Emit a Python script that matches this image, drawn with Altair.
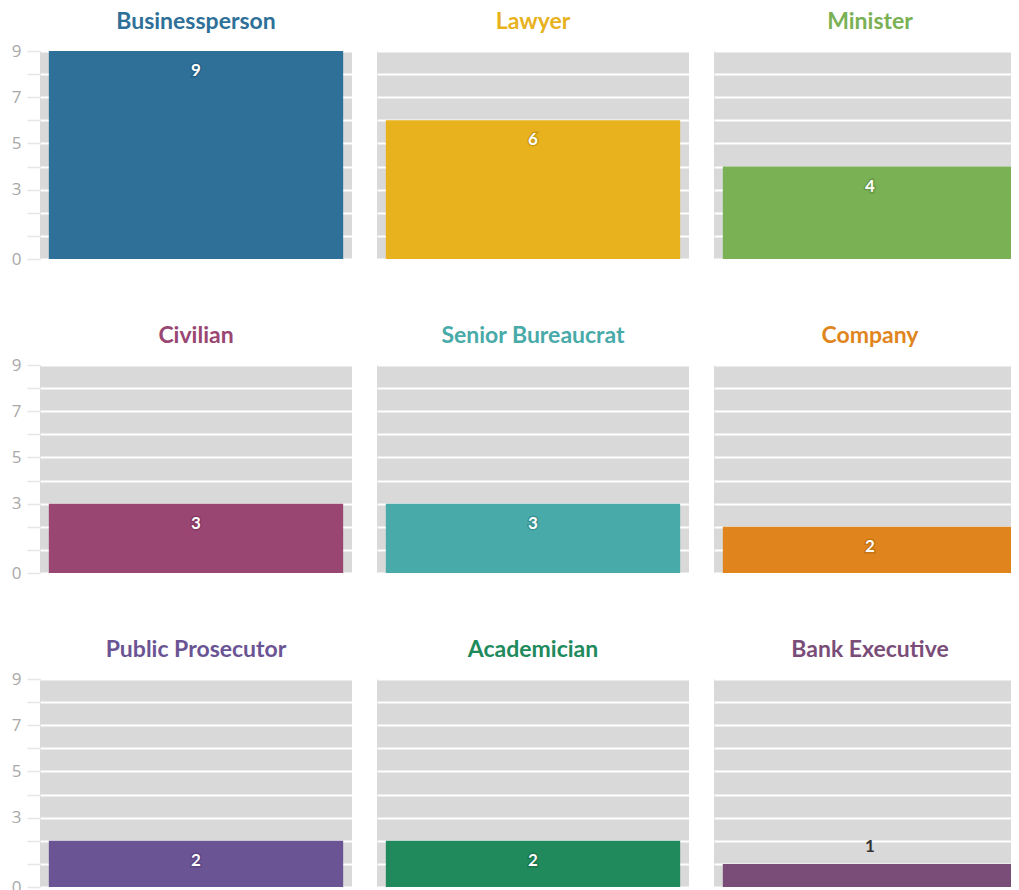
import altair as alt
import pandas as pd

roles = ["Businessperson", "Lawyer", "Minister", "Civilian", "Senior Bureaucrat",
         "Company", "Public Prosecutor", "Academician", "Bank Executive"]
counts = [9, 6, 4, 3, 3, 2, 2, 2, 1]
colors = ["#2e7098", "#e8b11e", "#7ab155", "#9a4672", "#48aaa9",
          "#e0851d", "#6b5494", "#218a5c", "#7a4d79"]
halos = ["#1d4e6e", "#b07f0a", "#4f7d33", "#6c2a4e", "#2a7877",
         "#a85c08", "#46346b", "#0f5c3a", "#4f2d50"]
y_ticks = [0, 1, 2, 3, 4, 5, 6, 7, 8, 9]
y_labels = [0, 3, 5, 7, 9]

df = pd.DataFrame({"role": roles, "count": counts})

W, H = 312, 208


def panel(i):
    d = df.iloc[[i]]
    first = i % 3 == 0
    if first:
        yaxis = alt.Axis(
            values=y_ticks,
            labelExpr="indexof(" + str(y_labels) + ", datum.value) >= 0 ? datum.label : ''",
            title=None, domain=False, tickSize=13, tickColor="#e6e6e6", tickWidth=1.5,
            labelColor="#a8a8a8", labelFontSize=17, labelFont="Open Sans",
            labelPadding=6, grid=True, gridColor="white", gridWidth=2,
        )
    else:
        yaxis = alt.Axis(
            values=y_ticks, labels=False, ticks=False, domain=False, title=None,
            grid=True, gridColor="white", gridWidth=2,
        )
    base = alt.Chart(d).encode(
        x=alt.X("role:N", axis=None,
                scale=alt.Scale(paddingInner=0, paddingOuter=0.03)),
        y=alt.Y("count:Q", scale=alt.Scale(domain=[0, 9], nice=False), axis=yaxis),
    )
    bar = base.mark_bar(color=colors[i])
    if counts[i] >= 2:
        halo = base.mark_text(dy=20, fontSize=17, fontWeight="bold", font="Lato",
                              color=halos[i], stroke=halos[i], strokeWidth=3,
                              strokeOpacity=0.45).encode(text="count:Q")
        txt = base.mark_text(dy=20, fontSize=17, fontWeight="bold", font="Lato",
                             color="white").encode(text="count:Q")
        layers = [bar, halo, txt]
    else:
        txt = base.mark_text(dy=-17, fontSize=17, fontWeight="bold", font="Lato",
                             color="#333333").encode(text="count:Q")
        layers = [bar, txt]
    return alt.layer(*layers).properties(
        width=W, height=H,
        title=alt.TitleParams(roles[i], color=colors[i], fontSize=23, font="Lato",
                              fontWeight="bold", offset=8 if first else 17,
                              anchor="middle"),
    )


rows = [alt.hconcat(*[panel(r * 3 + c) for c in range(3)], spacing=25) for r in range(3)]
chart = alt.vconcat(*rows, spacing=58).properties(
    padding={"left": 3, "top": 3, "right": -15, "bottom": 0}
).configure_view(fill="#d9d9d9", stroke=None)

chart.save("out.html", embed_options={"renderer": "svg", "actions": False})
